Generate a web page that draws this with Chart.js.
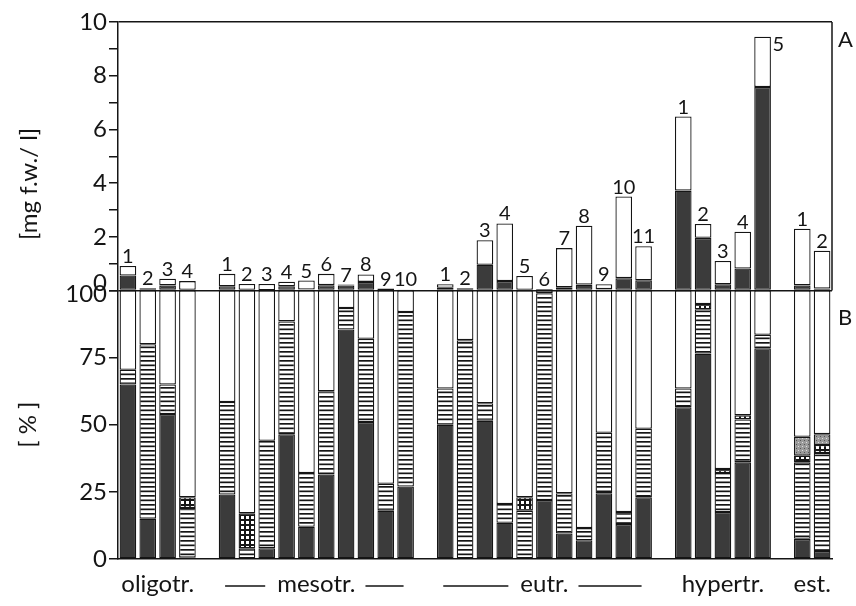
<!DOCTYPE html>
<html>
<head>
<meta charset="utf-8">
<script src="https://cdn.jsdelivr.net/npm/chart.js@4.4.0/dist/chart.umd.min.js"></script>
<style>
  body { margin: 0; background: #fff; }
  canvas { display: block; }
</style>
</head>
<body>
<canvas id="chart" width="856" height="606"></canvas>
<script>
// Lake groups (trophic state) and number of lakes in each group
const groupNames = ["oligotr.", "mesotr.", "eutr.", "hypertr.", "est."];
const groupSizes = [4, 10, 11, 5, 2];
const groupDashed = [false, true, true, false, false];

// Panel A: biomass [mg f.w./l], dark part and the rest of each bar
const biomassDark = [
  0.56, 0, 0.19, 0,
  0.16, 0, 0.01, 0.16, 0.04, 0.2, 0.19, 0.32, 0.01, 0,
  0.1, 0, 0.96, 0.35, 0, 0.02, 0.12, 0.22, 0.05, 0.46, 0.38,
  3.72, 1.96, 0.23, 0.82, 7.58,
  0.19, 0.07
];
const biomassRest = [
  0.35, 0.08, 0.25, 0.35,
  0.46, 0.24, 0.23, 0.17, 0.33, 0.42, 0.03, 0.28, 0.06, 0.04,
  0.13, 0.08, 0.91, 2.15, 0.54, 0.03, 1.46, 2.19, 0.18, 3.04, 1.27,
  2.76, 0.52, 0.87, 1.37, 1.87,
  2.11, 1.41
];

// Panel B: composition [%], bottom to top
const pctDark = [
  65, 15, 54, 0.5,
  24, 0, 4, 46.5, 12, 31.5, 85.5, 51, 18, 27,
  50, 0, 51.5, 13.5, 0, 22, 9.5, 7, 24.5, 13, 23,
  56.5, 76.5, 17.5, 36, 78.5,
  7.5, 3
];
const pctHatched = [
  5.5, 65, 11, 18.5,
  34.5, 4, 40, 42, 20, 31, 8, 31, 10, 65,
  13.5, 81.5, 6.5, 7, 18, 77, 15, 4.5, 22.5, 4.5, 25.5,
  7, 16.5, 14.5, 16, 5,
  28.5, 36.5
];
const pctGrid = [
  0, 0, 0, 4,
  0, 13, 0, 0, 0, 0, 0, 0, 0, 0,
  0, 0, 0, 0, 5, 0, 0, 0, 0, 0, 0,
  0, 2, 1.5, 1.5, 0,
  2.5, 3
];
const pctStipple = [
  0, 0, 0, 0,
  0, 0, 0, 0, 0, 0, 0, 0, 0, 0,
  0, 0, 0, 0, 0, 0, 0, 0, 0, 0, 0,
  0, 0, 0, 0, 0,
  7, 4
];
const pctWhite = [
  29.5, 20, 35, 77,
  41.5, 83, 56, 11.5, 68, 37.5, 6.5, 18, 72, 8,
  36.5, 18.5, 42, 79.5, 77, 1, 75.5, 88.5, 53, 82.5, 51.5,
  36.5, 5, 66.5, 46.5, 16.5,
  54.5, 53.5
];

const yTicksA = [0, 2, 4, 6, 8, 10];
const yTicksB = [0, 25, 50, 75, 100];

const FONT = "Lato, 'Open Sans', sans-serif";
const INK = "#151515";
const DARK = "#3b3b3b";

// lake numbers per group, with an empty slot between groups
const labels = [];
groupSizes.forEach((n, g) => {
  if (g > 0) labels.push("");
  for (let i = 1; i <= n; i++) labels.push(String(i));
});

function withGaps(values) {
  const out = [];
  let k = 0;
  groupSizes.forEach((n, g) => {
    if (g > 0) out.push(null);
    for (let i = 0; i < n; i++) {
      const v = values[k++];
      out.push(v ? v : null);
    }
  });
  return out;
}

const ctx = document.getElementById("chart").getContext("2d");

function makePattern(w, h, draw) {
  const c = document.createElement("canvas");
  c.width = w;
  c.height = h;
  draw(c.getContext("2d"));
  return ctx.createPattern(c, "repeat");
}

const hatch = makePattern(9, 9, (g) => {
  g.fillStyle = "#fff";
  g.fillRect(0, 0, 9, 9);
  g.fillStyle = INK;
  g.fillRect(0, 0, 9, 1.7);
  g.fillRect(0, 4.5, 9, 1.7);
});
const grid = makePattern(5, 5, (g) => {
  g.fillStyle = INK;
  g.fillRect(0, 0, 5, 5);
  g.fillStyle = "#fff";
  g.fillRect(1, 1, 3, 3);
});
const stipple = makePattern(4, 4, (g) => {
  g.fillStyle = "#9a9a9a";
  g.fillRect(0, 0, 4, 4);
  g.fillStyle = "#555";
  g.fillRect(0, 0, 1, 1);
  g.fillStyle = "#ddd";
  g.fillRect(2, 2, 1, 1);
});

// numbers above bars, group names, panel letters, right frame of A
const decor = {
  id: "decor",
  afterDraw(chart) {
    const { ctx, chartArea } = chart;
    const x = chart.scales.x;
    const yA = chart.scales.yA;
    const yB = chart.scales.yB;
    ctx.save();
    ctx.fillStyle = INK;
    ctx.strokeStyle = INK;
    ctx.lineWidth = 1.5;

    ctx.beginPath();
    ctx.moveTo(chartArea.right, yA.top);
    ctx.lineTo(chartArea.right, yA.bottom);
    ctx.stroke();

    ctx.font = "22px " + FONT;
    ctx.textAlign = "left";
    ctx.textBaseline = "alphabetic";
    ctx.fillText("A", chartArea.right + 6, yA.top + 25);
    ctx.fillText("B", chartArea.right + 6, yB.top + 34);

    ctx.font = "20px " + FONT;
    labels.forEach((lab, i) => {
      if (!lab) return;
      let top = yA.bottom;
      [0, 1].forEach((d) => {
        const v = chart.data.datasets[d].data[i];
        const el = chart.getDatasetMeta(d).data[i];
        if (v != null && el) top = Math.min(top, el.y);
      });
      const bx = x.getPixelForValue(i);
      if (top - yA.top < 40) {
        ctx.textAlign = "left";
        ctx.fillText(lab, bx + 10, top + 14);
      } else {
        ctx.textAlign = "center";
        ctx.fillText(lab, bx, top - 3);
      }
    });

    ctx.font = "24px " + FONT;
    ctx.textAlign = "center";
    const base = chartArea.bottom + 33;
    let start = 0;
    groupSizes.forEach((n, g) => {
      const x0 = x.getPixelForValue(start);
      const x1 = x.getPixelForValue(start + n - 1);
      const cx = (x0 + x1) / 2;
      ctx.fillText(groupNames[g], cx, base);
      if (groupDashed[g]) {
        const w = ctx.measureText(groupNames[g]).width;
        ctx.lineWidth = 1.6;
        ctx.beginPath();
        ctx.moveTo(x0 - 2, base - 6);
        ctx.lineTo(cx - w / 2 - 12, base - 6);
        ctx.moveTo(cx + w / 2 + 10, base - 6);
        ctx.lineTo(x1 - 2, base - 6);
        ctx.stroke();
      }
      start += n + 1;
    });
    ctx.restore();
  }
};

const barStyle = { borderColor: INK, borderWidth: 1.3, borderSkipped: false };

const chart = new Chart(ctx, {
  type: "bar",
  data: {
    labels: labels,
    datasets: [
      { label: "A dark", data: withGaps(biomassDark), yAxisID: "yA", backgroundColor: DARK, ...barStyle },
      { label: "A rest", data: withGaps(biomassRest), yAxisID: "yA", backgroundColor: "#fff", ...barStyle },
      { label: "B dark", data: withGaps(pctDark), yAxisID: "yB", backgroundColor: DARK, ...barStyle },
      { label: "B hatched", data: withGaps(pctHatched), yAxisID: "yB", backgroundColor: hatch, ...barStyle },
      { label: "B grid", data: withGaps(pctGrid), yAxisID: "yB", backgroundColor: grid, ...barStyle },
      { label: "B stipple", data: withGaps(pctStipple), yAxisID: "yB", backgroundColor: stipple, ...barStyle },
      { label: "B white", data: withGaps(pctWhite), yAxisID: "yB", backgroundColor: "#fff", ...barStyle },
    ],
  },
  options: {
    responsive: false,
    animation: false,
    layout: { padding: { top: 22, right: 24, bottom: 47, left: 0 } },
    datasets: { bar: { stack: "all", barPercentage: 0.84, categoryPercentage: 1 } },
    plugins: { legend: { display: false }, tooltip: { enabled: false } },
    scales: {
      x: {
        stacked: true,
        ticks: { display: false },
        grid: { display: false, drawTicks: false },
        border: { color: INK, width: 1.5 },
        afterFit: (s) => { s.height = 0; },
      },
      // stacked axes are placed bottom-up in definition order: B first, then A
      yB: {
        type: "linear",
        position: "left",
        stack: "panels",
        stackWeight: 1,
        stacked: true,
        min: 0,
        max: 100,
        afterFit: (s) => { s.width = 118; },
        ticks: {
          stepSize: 25,
          autoSkip: false,
          padding: 2,
          color: INK,
          font: { family: FONT, size: 24, lineHeight: 0.3 },
          callback: (v) => (v === 100 ? ["", "100"] : yTicksB.includes(v) ? String(v) : ""),
        },
        grid: {
          color: (c) => (c.tick && c.tick.value === 100 ? INK : "rgba(0,0,0,0)"),
          tickColor: INK,
          tickLength: 9,
          lineWidth: 1.5,
        },
        border: { color: INK, width: 1.5 },
        title: {
          display: true,
          text: "[ % ]",
          color: INK,
          font: { family: FONT, size: 24 },
          padding: { top: 14, bottom: 4 },
        },
      },
      yA: {
        type: "linear",
        position: "left",
        stack: "panels",
        stackWeight: 1,
        stacked: true,
        min: 0,
        max: 10,
        afterFit: (s) => { s.width = 118; },
        ticks: {
          stepSize: 1,
          autoSkip: false,
          padding: 2,
          color: INK,
          font: { family: FONT, size: 24, lineHeight: 0.6 },
          callback: (v) => (v === 0 ? ["0", ""] : yTicksA.includes(v) ? String(v) : ""),
        },
        grid: {
          color: (c) => (c.tick && c.tick.value === 10 ? INK : "rgba(0,0,0,0)"),
          tickColor: INK,
          tickLength: 9,
          lineWidth: 1.5,
        },
        border: { color: INK, width: 1.5 },
        title: {
          display: true,
          text: "[mg f.w./ l]         ",
          color: INK,
          font: { family: FONT, size: 24 },
          padding: { top: 15, bottom: 4 },
        },
      },
    },
  },
  plugins: [decor],
});
</script>
</body>
</html>
